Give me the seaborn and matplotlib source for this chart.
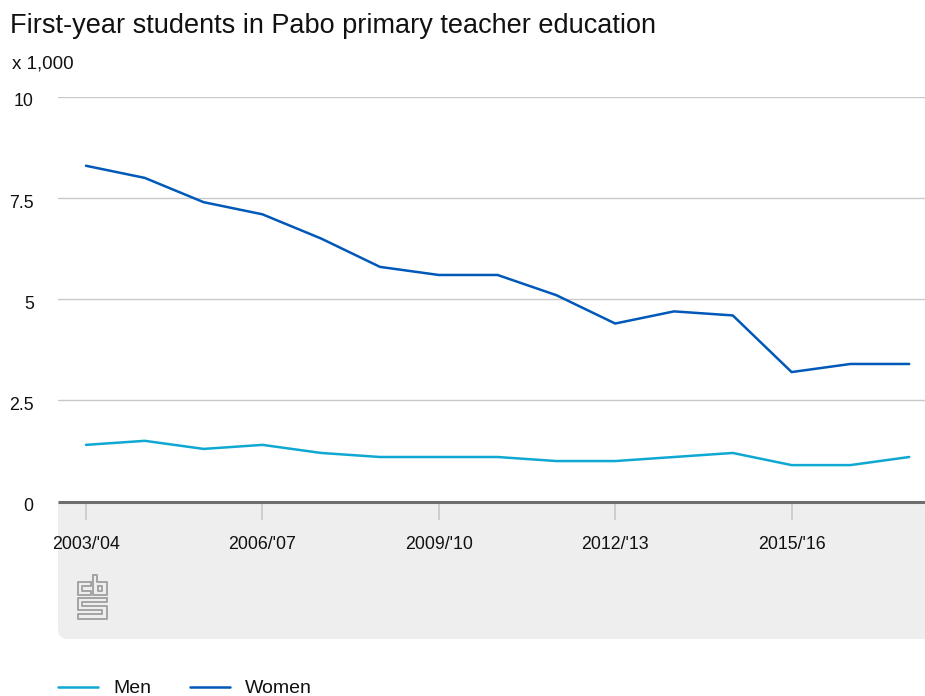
"""First-year students in Pabo primary teacher education."""

import matplotlib

matplotlib.use("Agg")
import matplotlib.pyplot as plt
import pandas as pd
import seaborn as sns
from matplotlib.patches import PathPatch
from matplotlib.path import Path
from matplotlib.transforms import ScaledTranslation

W, H = 925, 696

years = [
    "2003/'04", "2004/'05", "2005/'06", "2006/'07", "2007/'08",
    "2008/'09", "2009/'10", "2010/'11", "2011/'12", "2012/'13",
    "2013/'14", "2014/'15", "2015/'16", "2016/'17", "2017/'18",
]
men = [1.4, 1.5, 1.3, 1.4, 1.2, 1.1, 1.1, 1.1, 1.0, 1.0, 1.1, 1.2, 0.9, 0.9, 1.1]
women = [8.3, 8.0, 7.4, 7.1, 6.5, 5.8, 5.6, 5.6, 5.1, 4.4, 4.7, 4.6, 3.2, 3.4, 3.4]
yticks = [0, 2.5, 5, 7.5, 10]
yticklabels = ["0", "2.5", "5", "7.5", "10"]
xticks = ["2003/'04", "2006/'07", "2009/'10", "2012/'13", "2015/'16"]

MEN_COLOR = "#0fa8d2"
WOMEN_COLOR = "#0058b8"

# logo strokes, pixels of the figure (y down)
logo_strokes = [
    # c
    [(91, 582), (78, 582), (78, 595), (91, 595), (91, 591), (82, 591), (82, 586),
     (91, 586), (91, 582)],
    # b
    [(93, 574.5), (97, 574.5), (97, 582), (106.5, 582), (106.5, 595), (93, 595),
     (93, 574.5)],
    [(97.5, 586), (102, 586), (102, 591), (97.5, 591), (97.5, 586)],
    # s
    [(106.5, 597.5), (77.5, 597.5), (77.5, 610), (102, 610), (102, 614), (77.5, 614),
     (77.5, 618.5), (106.5, 618.5), (106.5, 606), (82, 606), (82, 602), (106.5, 602),
     (106.5, 597.5)],
]


def fx(x):
    return x / W


def fy(y):
    return 1 - y / H


def main():
    sns.set_theme(style="white")
    plt.rcParams["font.family"] = ["Liberation Sans"]

    df = pd.DataFrame({"year": years, "Men": men, "Women": women})
    long = df.melt(id_vars="year", var_name="sex", value_name="students")

    fig = plt.figure(figsize=(W / 100, H / 100), dpi=100)
    left, right, top, bottom = 58, 925, 97, 501.5
    ax = fig.add_axes([fx(left), fy(bottom), fx(right - left), (bottom - top) / H])

    # grey band below the axis, rounded at bottom left
    r = 10
    verts = [
        (left, bottom), (right, bottom), (right, 639), (left + r, 639),
        (left, 639), (left, 639 - r), (left, bottom),
    ]
    codes = [Path.MOVETO, Path.LINETO, Path.LINETO, Path.LINETO,
             Path.CURVE3, Path.CURVE3, Path.CLOSEPOLY]
    fig.add_artist(PathPatch(
        Path([(fx(a), fy(b)) for a, b in verts], codes),
        transform=fig.transFigure, facecolor="#eeeeee", edgecolor="none", zorder=-5,
    ))
    ax.patch.set_alpha(0)

    sns.lineplot(
        data=long, x="year", y="students", hue="sex",
        palette={"Men": MEN_COLOR, "Women": WOMEN_COLOR},
        linewidth=1.8, sort=False, ax=ax, legend=False, zorder=3,
    )

    step = 58.8
    ax.set_xlim(-(86 - left) / step, (right - 86) / step)
    ax.set_ylim(0, 10)
    ax.set_xlabel("")
    ax.set_ylabel("")
    sns.despine(ax=ax, left=True, right=True, top=True)
    ax.spines["bottom"].set_color("#6e6e6e")
    ax.spines["bottom"].set_linewidth(2.2)
    ax.spines["bottom"].set_capstyle("butt")
    ax.grid(False)
    for tick in yticks[1:]:
        ax.axhline(tick, color="#c9c9c9", linewidth=1, zorder=1)

    ax.set_xticks([years.index(t) for t in xticks])
    ax.set_xticklabels(xticks, fontsize=12.8, color="#111111")
    ax.set_yticks(yticks)
    ax.set_yticklabels(yticklabels, fontsize=12.8, color="#111111")
    ax.tick_params(axis="x", length=13, width=1.2, color="#c8c8c8", pad=11.5, bottom=True)
    ax.tick_params(axis="y", length=0, pad=17.5)
    shift = ScaledTranslation(0, -3 / 100, fig.dpi_scale_trans)
    for label in ax.get_yticklabels():
        label.set_transform(label.get_transform() + shift)

    fig.text(fx(10), fy(26), "First-year students in Pabo primary teacher education",
             fontsize=19.55, color="#111111", ha="left", va="center")
    fig.text(fx(12), fy(64), "x 1,000", fontsize=13.5, color="#111111", ha="left", va="center")

    # legend
    handles = [
        plt.Line2D([], [], color=MEN_COLOR, linewidth=1.8, label="Men"),
        plt.Line2D([], [], color=WOMEN_COLOR, linewidth=1.8, label="Women"),
    ]
    fig.legend(
        handles=handles, loc="center left", bbox_to_anchor=(fx(58), fy(688.5)),
        ncol=2, frameon=False, fontsize=14, handlelength=2.06, handletextpad=0.8,
        columnspacing=1.96, labelcolor="#111111", borderpad=0, borderaxespad=0,
    )

    for stroke in logo_strokes:
        fig.add_artist(plt.Line2D(
            [fx(a) for a, _ in stroke], [fy(b) for _, b in stroke],
            transform=fig.transFigure, color="#a3a3a3", linewidth=1.4,
        ))

    plt.savefig("out.png", dpi=100)


if __name__ == "__main__":
    main()
